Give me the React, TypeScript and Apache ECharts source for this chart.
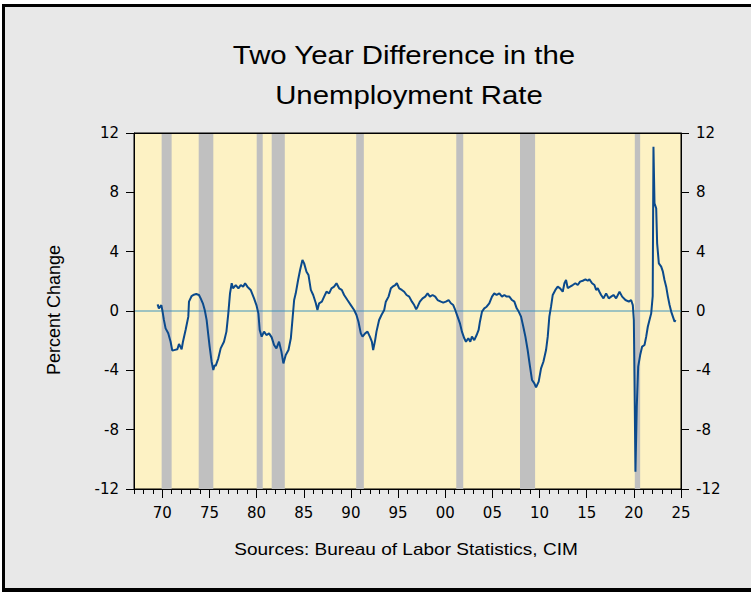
import React, { useEffect, useRef } from "react";
import * as echarts from "echarts";

// Decimal-year dates and two-year difference values
const dates = [
  1969.5, 1969.64, 1969.9, 1970.0, 1970.17, 1970.35, 1970.63, 1970.88, 1971.06, 1971.35,
  1971.6, 1971.77, 1972.05, 1972.19, 1972.47, 1972.76, 1972.83, 1973.11, 1973.35, 1973.6,
  1973.89, 1974.07, 1974.3, 1974.5, 1974.7, 1974.88, 1975.02, 1975.23, 1975.41, 1975.55,
  1975.66, 1975.94, 1976.19, 1976.54, 1976.8, 1977.0, 1977.18, 1977.36, 1977.5, 1977.79,
  1978.07, 1978.32, 1978.57, 1978.78, 1979.02, 1979.37, 1979.73, 1979.98, 1980.19, 1980.33,
  1980.54, 1980.79, 1981.04, 1981.32, 1981.6, 1981.85, 1982.1, 1982.38, 1982.63, 1982.84,
  1983.09, 1983.38, 1983.63, 1983.8, 1983.98, 1984.15, 1984.4, 1984.61, 1984.86, 1985.04,
  1985.29, 1985.5, 1985.75, 1986.0, 1986.28, 1986.45, 1986.63, 1986.92, 1987.16, 1987.41,
  1987.69, 1987.94, 1988.22, 1988.47, 1988.75, 1989.03, 1989.28, 1989.63, 1989.99, 1990.34,
  1990.59, 1990.8, 1991.05, 1991.23, 1991.51, 1991.76, 1992.01, 1992.22, 1992.36, 1992.57,
  1992.71, 1992.99, 1993.24, 1993.53, 1993.7, 1993.99, 1994.24, 1994.42, 1994.7, 1994.87,
  1995.12, 1995.4, 1995.65, 1995.9, 1996.18, 1996.47, 1996.71, 1996.92, 1997.07, 1997.31,
  1997.6, 1997.88, 1998.13, 1998.38, 1998.66, 1998.94, 1999.19, 1999.54, 1999.79, 2000.07,
  2000.36, 2000.6, 2000.85, 2001.06, 2001.31, 2001.56, 2001.77, 2002.02, 2002.2, 2002.45,
  2002.66, 2002.83, 2003.08, 2003.33, 2003.54, 2003.68, 2003.9, 2004.14, 2004.39, 2004.67,
  2004.96, 2005.2, 2005.45, 2005.74, 2006.02, 2006.27, 2006.51, 2006.8, 2007.08, 2007.33,
  2007.58, 2007.79, 2008.04, 2008.28, 2008.5, 2008.74, 2008.99, 2009.2, 2009.45, 2009.63,
  2009.91, 2010.16, 2010.41, 2010.69, 2010.87, 2011.04, 2011.22, 2011.4, 2011.68, 2011.93,
  2012.18, 2012.46, 2012.64, 2012.81, 2012.99, 2013.24, 2013.52, 2013.8, 2014.05, 2014.3,
  2014.58, 2014.87, 2015.11, 2015.29, 2015.57, 2015.82, 2016.0, 2016.17, 2016.35, 2016.53,
  2016.78, 2017.06, 2017.34, 2017.59, 2017.84, 2018.12, 2018.48, 2018.76, 2019.11, 2019.47,
  2019.71, 2019.89, 2020.0, 2020.07, 2020.17, 2020.31, 2020.46, 2020.67, 2020.88, 2021.13,
  2021.31, 2021.48, 2021.66, 2021.84, 2022.0, 2022.08, 2022.19, 2022.37, 2022.47, 2022.65,
  2022.9, 2023.08, 2023.25, 2023.43, 2023.61, 2023.79, 2023.96, 2024.14, 2024.32, 2024.42,
];

const diffValues = [
  0.45, 0.18, 0.4, 0.07, -0.6, -1.17, -1.5, -2.07, -2.67, -2.62,
  -2.58, -2.22, -2.58, -2.07, -1.28, -0.38, 0.63, 1.01, 1.1, 1.15,
  1.08, 0.85, 0.52, 0.07, -0.6, -1.62, -2.4, -3.42, -3.98, -3.65,
  -3.7, -3.19, -2.52, -2.07, -1.39, -0.16, 1.19, 1.87, 1.53, 1.75,
  1.53, 1.75, 1.64, 1.87, 1.64, 1.42, 0.85, 0.4, -0.16, -1.28,
  -1.73, -1.39, -1.62, -1.51, -1.78, -2.29, -2.52, -2.07, -2.74, -3.53,
  -2.97, -2.63, -1.84, -0.6, 0.74, 1.19, 2.09, 2.76, 3.44, 3.21,
  2.65, 2.43, 1.42, 1.08, 0.52, 0.07, 0.52, 0.63, 0.97, 1.3,
  1.19, 1.53, 1.64, 1.87, 1.53, 1.42, 1.08, 0.74, 0.4, 0.07,
  -0.27, -0.72, -1.51, -1.73, -1.51, -1.39, -1.73, -2.07, -2.63, -1.96,
  -1.39, -0.61, -0.27, 0.07, 0.63, 0.97, 1.53, 1.64, 1.75, 1.87,
  1.53, 1.42, 1.3, 1.08, 0.97, 0.63, 0.4, 0.11, 0.29, 0.63,
  0.85, 0.97, 1.19, 0.97, 1.08, 0.97, 0.74, 0.63, 0.56, 0.63,
  0.74, 0.52, 0.4, 0.07, -0.38, -0.83, -1.39, -1.84, -2.07, -1.84,
  -2.07, -1.73, -1.96, -1.62, -1.28, -0.72, -0.04, 0.18, 0.29, 0.52,
  0.97, 1.19, 1.08, 1.19, 0.97, 1.08, 0.97, 0.97, 0.74, 0.63,
  0.18, -0.04, -0.38, -1.06, -1.73, -2.63, -3.75, -4.65, -4.88, -5.15,
  -4.76, -3.87, -3.42, -2.63, -1.73, -0.38, 0.29, 1.08, 1.42, 1.64,
  1.53, 1.3, 1.87, 2.09, 1.55, 1.64, 1.75, 1.87, 1.75, 1.98,
  2.04, 2.13, 2.04, 2.13, 1.87, 1.75, 1.42, 1.53, 1.3, 1.08,
  0.85, 1.19, 0.85, 0.97, 1.08, 0.85, 1.3, 0.97, 0.74, 0.63,
  0.74, 0.4, -0.61, -4.65, -10.83, -6.45, -3.75, -2.97, -2.4, -2.29,
  -1.73, -1.06, -0.61, -0.16, 1.0, 11.08, 7.26, 6.92, 4.56, 3.21,
  2.99, 2.65, 2.09, 1.64, 0.97, 0.4, -0.04, -0.38, -0.72, -0.61,
];

// Recession shading (decimal years)
const recessionStarts = [1969.93, 1973.86, 1980.01, 1981.6, 1990.56, 2001.17, 2007.93, 2020.1];
const recessionEnds = [1970.99, 1975.41, 1980.65, 1982.99, 1991.37, 2001.91, 2009.53, 2020.67];

// Axis ranges
const xMin = 1967;
const xMax = 2025;
const yMin = -12;
const yMax = 12;
const yStep = 4;
const zeroLevel = 0;
const yearCategories: string[] = [];
for (let y = xMin; y <= xMax; y++) yearCategories.push(String(y));

const titleLines = ["Two Year Difference in the", "Unemployment Rate"];
const yAxisName = "Percent Change";
const sourceText = "Sources: Bureau of Labor Statistics, CIM";

const LABEL_FONT = "DejaVu Sans";
const TEXT_FONT = "Liberation Sans, Arial, sans-serif";

export default function App() {
  const ref = useRef<HTMLDivElement>(null);

  useEffect(() => {
    if (!ref.current) return;
    const chart = echarts.init(ref.current, undefined, { renderer: "svg" });
    const lineData = dates.map((d, i) => [d, diffValues[i]]);

    const axisLabelStyle = {
      color: "#000",
      fontSize: 15,
      fontFamily: LABEL_FONT,
    };

    const textStyle = (text: string, size: number) => ({
      text,
      font: `${size}px ${TEXT_FONT}`,
      fill: "#000",
      align: "center",
      verticalAlign: "middle",
      textAlign: "center",
      textVerticalAlign: "middle",
    });

    const option: any = {
      animation: false,
      backgroundColor: "transparent",
      grid: {
        left: 134,
        right: 70,
        top: 133,
        bottom: 103,
        show: true,
        backgroundColor: "#FDF2C4",
        borderColor: "#000",
        borderWidth: 1,
        containLabel: false,
      },
      xAxis: [
        {
          type: "value",
          min: xMin,
          max: xMax,
          interval: 1,
          position: "bottom",
          z: 10,
          axisLine: { show: true, onZero: false, lineStyle: { color: "#000", width: 1 } },
          axisTick: { show: true, length: 5, lineStyle: { color: "#000", width: 1 } },
          axisLabel: {
            ...axisLabelStyle,
            margin: 16,
            formatter: (v: number) => {
              const r = Math.round(v);
              return r % 5 === 0 ? String(r % 100).padStart(2, "0") : "";
            },
          },
          splitLine: { show: false },
        },
        {
          type: "category",
          data: yearCategories,
          boundaryGap: false,
          position: "bottom",
          z: 10,
          axisLine: { show: false, onZero: false },
          axisTick: {
            show: true,
            length: 9,
            interval: (idx: number, val: string) => Number(val) % 5 === 0,
            lineStyle: { color: "#000", width: 1 },
          },
          axisLabel: { show: false },
          splitLine: { show: false },
        },
        {
          type: "value",
          min: xMin,
          max: xMax,
          position: "top",
          z: 10,
          axisLine: { show: true, onZero: false, lineStyle: { color: "#000", width: 1 } },
          axisTick: { show: false },
          axisLabel: { show: false },
          splitLine: { show: false },
        },
      ],
      yAxis: [
        {
          type: "value",
          min: yMin,
          max: yMax,
          interval: yStep,
          position: "left",
          z: 10,
          axisLine: { show: true, onZero: false, lineStyle: { color: "#000", width: 1 } },
          axisTick: { show: true, length: 8, lineStyle: { color: "#000", width: 1 } },
          axisLabel: { ...axisLabelStyle, margin: 15 },
          splitLine: { show: false },
        },
        {
          type: "value",
          min: yMin,
          max: yMax,
          interval: yStep,
          position: "right",
          z: 10,
          axisLine: { show: true, onZero: false, lineStyle: { color: "#000", width: 1 } },
          axisTick: { show: true, length: 8, lineStyle: { color: "#000", width: 1 } },
          axisLabel: { ...axisLabelStyle, margin: 15 },
          splitLine: { show: false },
        },
      ],
      series: [
        {
          type: "line",
          name: "recessions",
          xAxisIndex: 0,
          yAxisIndex: 0,
          data: [[xMin, zeroLevel]],
          showSymbol: false,
          silent: true,
          z: 1,
          lineStyle: { opacity: 0 },
          markArea: {
            silent: true,
            z: 1,
            itemStyle: { color: "#C0C0C0", opacity: 1 },
            data: recessionStarts.map((s, i) => [{ xAxis: s }, { xAxis: recessionEnds[i] }]),
          },
        },
        {
          type: "line",
          name: "zero",
          xAxisIndex: 0,
          yAxisIndex: 0,
          data: [
            [xMin, zeroLevel],
            [xMax, zeroLevel],
          ],
          showSymbol: false,
          silent: true,
          z: 2,
          lineStyle: { color: "#4194BC", width: 1 },
        },
        {
          type: "line",
          name: "Two Year Difference",
          xAxisIndex: 0,
          yAxisIndex: 0,
          data: lineData,
          showSymbol: false,
          z: 4,
          lineStyle: { color: "#0B4A8C", width: 2 },
        },
      ],
      graphic: [
        { type: "text", x: 404, y: 55, scaleX: 1.13, silent: true, style: textStyle(titleLines[0], 26) },
        { type: "text", x: 409, y: 95, scaleX: 1.13, silent: true, style: textStyle(titleLines[1], 26) },
        {
          type: "text",
          x: 53.5,
          y: 310,
          rotation: Math.PI / 2,
          silent: true,
          style: textStyle(yAxisName, 18),
        },
        { type: "text", x: 406, y: 549, scaleX: 1.12, silent: true, style: textStyle(sourceText, 17) },
      ],
    };

    chart.setOption(option);
    return () => chart.dispose();
  }, []);

  return (
    <div
      style={{
        position: "fixed",
        left: 0,
        top: 0,
        width: 751,
        height: 592,
        background: "#FFFFFF",
        overflow: "hidden",
      }}
    >
      <div
        style={{
          position: "absolute",
          left: 2,
          top: 4,
          width: 749,
          height: 588,
          boxSizing: "border-box",
          background: "#E8E8E8",
          borderLeft: "3px solid #000",
          borderTop: "3px solid #000",
          borderBottom: "4px solid #000",
        }}
      />
      <div
        ref={ref}
        style={{ position: "absolute", left: 0, top: 0, width: 751, height: 592 }}
      />
    </div>
  );
}
